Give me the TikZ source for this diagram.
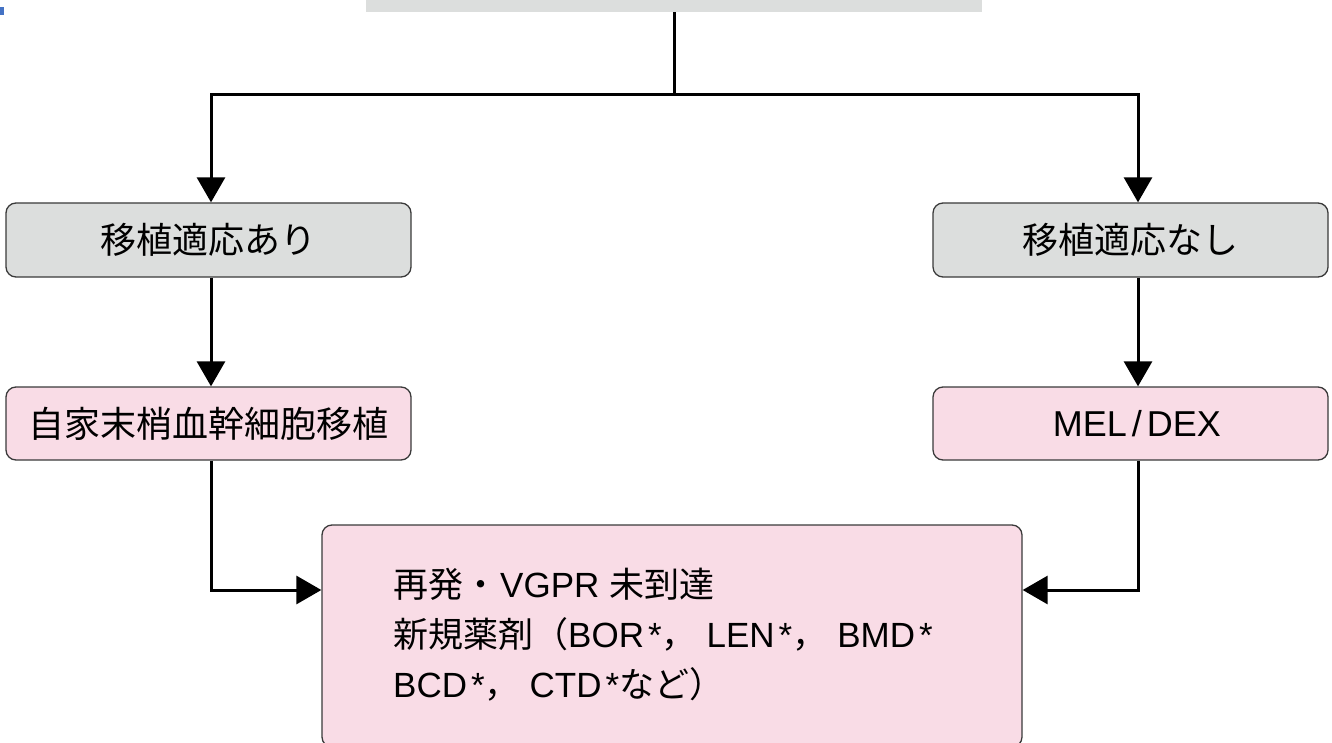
\documentclass[tikz,border=0pt]{standalone}
\usepackage{fontspec}
\setmainfont{Liberation Sans}
\newfontfamily\cjk{Noto Sans CJK JP}
\usetikzlibrary{arrows.meta}
\definecolor{boxgray}{HTML}{DCDEDD}
\definecolor{boxpink}{HTML}{F9DCE6}
\definecolor{edgec}{HTML}{3A3A3A}
\definecolor{markblue}{HTML}{4472C4}
\newcommand{\myast}{\kern4pt*}
\newcommand{\mycomma}{{\cjk ，}\kern10pt}
\tikzset{
  box/.style={draw=edgec, line width=1.3pt, rounded corners=10pt, inner sep=0pt,
    font=\fontsize{36}{42}\selectfont, anchor=center},
  graybox/.style={box, fill=boxgray},
  pinkbox/.style={box, fill=boxpink},
  conn/.style={line width=3pt, black},
  arr/.style={conn, -{Triangle[width=28pt,length=25pt]}},
}
\begin{document}
\begin{tikzpicture}[x=1pt,y=-1pt]
\useasboundingbox (0,0) rectangle (1332,743);
\begin{scope}
\clip (0,0) rectangle (1332,743);
\fill[markblue] (0,7) rectangle (4,15);
\node[fill=boxgray, minimum width=616pt, minimum height=52pt, inner sep=0pt] (top) at (674,-14) {};
\node[graybox, minimum width=405pt, minimum height=74pt] (yes) at (208.5,240) {\cjk 移植適応あり};
\node[graybox, minimum width=395pt, minimum height=74pt] (no) at (1130.5,240) {\cjk 移植適応なし};
\node[pinkbox, minimum width=405pt, minimum height=73pt] (asct) at (208.5,423.5) {\cjk 自家末梢血幹細胞移植};
\node[pinkbox, minimum width=395pt, minimum height=73pt, font=\fontsize{36}{42}\selectfont] (mel) at (1130.5,423.5) {\kern13pt MEL\kern5pt/\kern5pt DEX};
\node[pinkbox, minimum width=700pt, minimum height=222pt] (bot) at (672,636) {};
\node[anchor=north west, align=left, inner sep=0pt, font=\fontsize{35}{50}\selectfont] (btext) at (393,568)
  {{\cjk 再発・}\kern2pt VGPR {\cjk 未到達}\\{\cjk 新規薬剤（}BOR\myast\mycomma LEN\myast\mycomma BMD\myast\\BCD\myast\mycomma CTD\myast{\cjk など）}};
\coordinate (j) at (674,95);
\coordinate (jl) at (211,95);
\coordinate (jr) at (1138,95);
\coordinate (cl) at (211,590);
\coordinate (cr) at (1138,590);
\draw[conn] (top.south) -- (j);
\draw[conn, line cap=rect] (jl) -- (jr);
\draw[arr] (jl) -- (jl |- yes.north);
\draw[arr] (jr) -- (jr |- no.north);
\draw[arr] (jl |- yes.south) -- (jl |- asct.north);
\draw[arr] (jr |- no.south) -- (jr |- mel.north);
\draw[arr] (jl |- asct.south) -- (cl) -- (cl -| bot.west);
\draw[arr] (jr |- mel.south) -- (cr) -- (cr -| bot.east);
\end{scope}
\end{tikzpicture}
\end{document}
